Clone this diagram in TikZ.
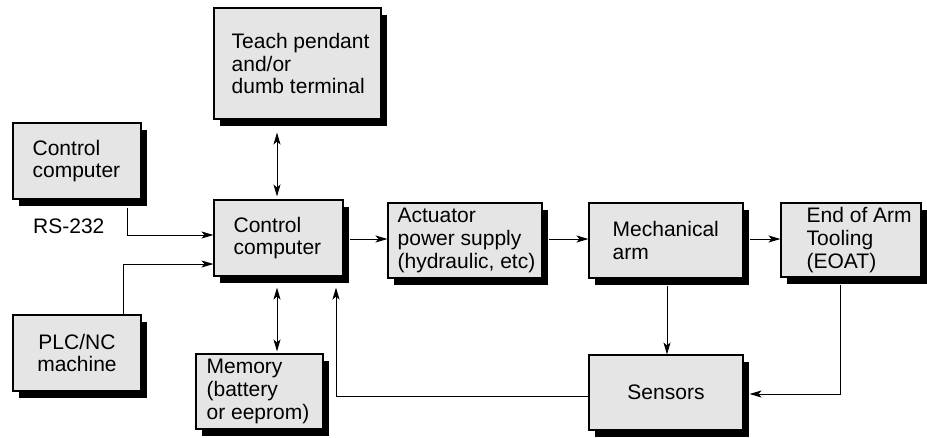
\documentclass[tikz,border=0pt]{standalone}
\usepackage{fontspec}
\setmainfont{Liberation Sans}
\usetikzlibrary{shadows,arrows.meta,calc}
\begin{document}
\begin{tikzpicture}[x=1pt,y=-1pt,
  box/.style={draw=black, line width=1.1pt, fill=black!10, rectangle, inner sep=0pt,
    drop shadow={shadow xshift=6pt, shadow yshift=-7pt, fill=black, opacity=1},
    font=\fontsize{21}{22.6}\selectfont, align=center},
  txt/.style={inner sep=0pt, anchor=west, align=left, font=\fontsize{21}{22.6}\selectfont},
  conn/.style={line width=0.9pt, -{Stealth[length=12pt,width=7pt,inset=3pt]}},
  biconn/.style={line width=0.9pt, {Stealth[length=12pt,width=7pt,inset=3pt]}-{Stealth[length=12pt,width=7pt,inset=3pt]}}]
\useasboundingbox (0,0) rectangle (927,437);
% boxes
\node[box, minimum width=167pt, minimum height=111pt] (teach) at (297.5,63.5) {};
\node[box, minimum width=128pt, minimum height=76pt] (cc1) at (77,161) {};
\node[box, minimum width=129pt, minimum height=76pt] (main) at (278.5,238) {};
\node[box, minimum width=128pt, minimum height=76pt] (plc) at (77,353) {PLC/NC\\machine};
\node[box, minimum width=127pt, minimum height=75pt] (mem) at (259.5,391.5) {};
\node[box, minimum width=154pt, minimum height=75pt] (act) at (465,240.5) {};
\node[box, minimum width=154pt, minimum height=75pt] (mech) at (666,240.5) {};
\node[box, minimum width=140pt, minimum height=74pt] (eoat) at (851,240) {};
\node[box, minimum width=154pt, minimum height=75pt] (sens) at (666,392.5) {Sensors};
% texts
\node[txt] (teacht) at ($(teach.west)+(18,0)$) {Teach pendant\\and/or\\dumb terminal};
\node[txt] (cc1t) at ($(cc1.west)+(20,0)$) {Control\\computer};
\node[txt] (maint) at ($(main.west)+(20,0)$) {Control\\computer};
\node[txt] (memt) at ($(mem.west)+(11,0)$) {Memory\\(battery\\or eeprom)};
\node[txt] (actt) at ($(act.west)+(10,0)$) {Actuator\\power supply\\(hydraulic, etc)};
\node[txt] (mecht) at ($(mech.west)+(24,0)$) {Mechanical\\arm};
\node[txt] (eoatt) at ($(eoat.west)+(26,0)$) {End of Arm\\Tooling\\(EOAT)};
\node[txt] (rs) at (33,226) {RS-232};
% connectors
\draw[biconn] ($(main.north |- teach.south)+(-1.5,13)$) -- ($(main.north)+(-1.5,-3)$);
\draw[biconn] ($(main.south)+(-1.5,11)$) -- ($(main.south |- mem.north)+(-1.5,-2)$);
\draw[conn] ($(cc1.south)+(50,8)$) |- ($(main.west)+(0,-3)$);
\draw[conn] ($(plc.north)+(46,0)$) |- ($(main.west)+(0,26)$);
\draw[conn] ($(main.east)+(6,1)$) -- ($(main.east -| act.west)+(0,1)$);
\draw[conn] ($(act.east)+(6,-1.5)$) -- ($(mech.west)+(0,-1.5)$);
\draw[conn] ($(mech.east)+(6,-1.5)$) -- ($(mech.east -| eoat.west)+(0,-1.5)$);
\draw[conn] ($(mech.south)+(1,7)$) -- ($(sens.north)+(1,0)$);
\draw[conn] ($(eoat.south)+(-11,7)$) |- ($(sens.east)+(6,1.5)$);
\draw[conn] ($(sens.west)+(0,3.5)$) -| ($(main.south)+(57.5,11)$);
\end{tikzpicture}
\end{document}
